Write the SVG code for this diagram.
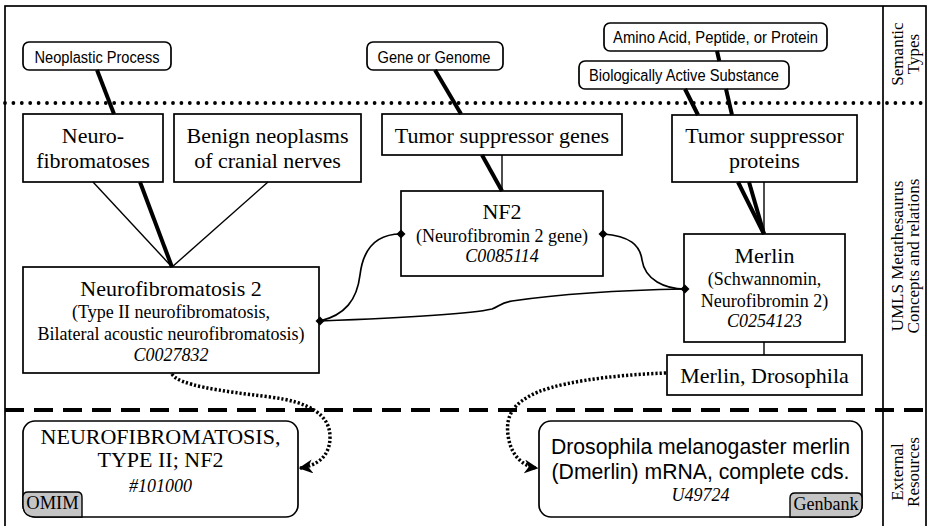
<svg xmlns="http://www.w3.org/2000/svg" width="928" height="526" viewBox="0 0 928 526">
<defs>
<style>
.box{fill:#fff;stroke:#000;stroke-width:1.7}
.st{fill:#fff;stroke:#000;stroke-width:1.7}
.sans{font-family:"Liberation Sans",Arial,sans-serif;fill:#000}
.serif{font-family:"Liberation Serif","Times New Roman",serif;fill:#000}
.it{font-style:italic}
.thick{stroke:#000;stroke-width:4;fill:none}
.thin{stroke:#000;stroke-width:1.4;fill:none}
.rel{stroke:#000;stroke-width:1.7;fill:none}
.dotlink{stroke:#000;stroke-width:3.5;fill:none;stroke-dasharray:2.2 2}
.tag{fill:#c4c4c4;stroke:#000;stroke-width:1.4}
</style>
<marker id="arr" viewBox="0 0 10 10" refX="9" refY="5" markerWidth="4" markerHeight="4" markerUnits="strokeWidth" orient="auto">
<path d="M0,0 L10,5 L0,10 L3,5 Z" fill="#000"/>
</marker>
<path id="dia" d="M0,-4.5 L4.5,0 L0,4.5 L-4.5,0 Z" fill="#000"/>
</defs>
<rect width="928" height="526" fill="#fff"/>
<g id="frame">
<rect x="5" y="6" width="921" height="540" fill="none" stroke="#000" stroke-width="1.7"/>
<line x1="883" y1="6" x2="883" y2="526" stroke="#000" stroke-width="1.7"/>
<line x1="5" y1="103" x2="928" y2="103" stroke="#000" stroke-width="3.8" stroke-linecap="round" stroke-dasharray="0 8.4"/>
<line x1="5" y1="410" x2="928" y2="410" stroke="#000" stroke-width="4" stroke-dasharray="19 10"/>
<text class="serif" font-size="17" text-anchor="middle" transform="translate(903,54) rotate(-90)">Semantic</text>
<text class="serif" font-size="17" text-anchor="middle" transform="translate(919,54) rotate(-90)">Types</text>
<text class="serif" font-size="17" text-anchor="middle" transform="translate(903,256) rotate(-90)">UMLS Metathesaurus</text>
<text class="serif" font-size="17" text-anchor="middle" transform="translate(919,256) rotate(-90)">Concepts and relations</text>
<text class="serif" font-size="17" text-anchor="middle" transform="translate(903,472) rotate(-90)">External</text>
<text class="serif" font-size="17" text-anchor="middle" transform="translate(919,472) rotate(-90)">Resources</text>
</g>
<g id="st-neoplastic">
<rect class="st" x="23" y="42" width="148" height="28" rx="6"/>
<text class="sans" font-size="16" x="97" y="63" text-anchor="middle" textLength="125" lengthAdjust="spacingAndGlyphs">Neoplastic Process</text>
</g>
<g id="st-gene">
<rect class="st" x="367" y="42" width="136" height="28" rx="6"/>
<text class="sans" font-size="16" x="434" y="63" text-anchor="middle" textLength="113" lengthAdjust="spacingAndGlyphs">Gene or Genome</text>
</g>
<g id="st-amino">
<rect class="st" x="604" y="23" width="223" height="28" rx="6"/>
<text class="sans" font-size="16" x="715.5" y="43" text-anchor="middle" textLength="205" lengthAdjust="spacingAndGlyphs">Amino Acid, Peptide, or Protein</text>
</g>
<g id="st-bio">
<rect class="st" x="579" y="61" width="210" height="28" rx="6"/>
<text class="sans" font-size="16" x="684" y="81" text-anchor="middle" textLength="190" lengthAdjust="spacingAndGlyphs">Biologically Active Substance</text>
</g>
<g id="c-neurofibromatoses">
<rect class="box" x="23" y="114" width="140" height="68"/>
<text class="serif" font-size="22" x="93" y="143" text-anchor="middle">Neuro-</text>
<text class="serif" font-size="22" x="93" y="168" text-anchor="middle">fibromatoses</text>
</g>
<g id="c-benign">
<rect class="box" x="174" y="114" width="187" height="68"/>
<text class="serif" font-size="22" x="267.5" y="143" text-anchor="middle">Benign neoplasms</text>
<text class="serif" font-size="22" x="267.5" y="168" text-anchor="middle">of cranial nerves</text>
</g>
<g id="c-tsgenes">
<rect class="box" x="382" y="114" width="240" height="41"/>
<text class="serif" font-size="22" x="502" y="143" text-anchor="middle">Tumor suppressor genes</text>
</g>
<g id="c-tsproteins">
<rect class="box" x="672" y="115" width="185" height="67"/>
<text class="serif" font-size="22" x="764.5" y="143" text-anchor="middle">Tumor suppressor</text>
<text class="serif" font-size="22" x="764.5" y="168" text-anchor="middle">proteins</text>
</g>
<g id="c-nf2disease">
<rect class="box" x="23" y="267" width="296" height="106"/>
<text class="serif" font-size="22" x="171" y="296" text-anchor="middle">Neurofibromatosis 2</text>
<text class="serif" font-size="18" x="171" y="318" text-anchor="middle">(Type II neurofibromatosis,</text>
<text class="serif" font-size="18" x="171" y="340" text-anchor="middle">Bilateral acoustic neurofibromatosis)</text>
<text class="serif it" font-size="18" x="171" y="361" text-anchor="middle">C0027832</text>
</g>
<g id="c-nf2gene">
<rect class="box" x="401" y="191" width="202" height="85"/>
<text class="serif" font-size="22" x="502" y="219" text-anchor="middle">NF2</text>
<text class="serif" font-size="18" x="502" y="242" text-anchor="middle">(Neurofibromin 2 gene)</text>
<text class="serif it" font-size="18" x="502" y="262" text-anchor="middle">C0085114</text>
</g>
<g id="c-merlin">
<rect class="box" x="684" y="234" width="161" height="108"/>
<text class="serif" font-size="22" x="764.5" y="263" text-anchor="middle">Merlin</text>
<text class="serif" font-size="18" x="764.5" y="285" text-anchor="middle">(Schwannomin,</text>
<text class="serif" font-size="18" x="764.5" y="307" text-anchor="middle">Neurofibromin 2)</text>
<text class="serif it" font-size="18" x="764.5" y="327" text-anchor="middle">C0254123</text>
</g>
<g id="c-merlindros">
<rect class="box" x="667" y="355" width="195" height="40"/>
<text class="serif" font-size="22" x="764.5" y="383" text-anchor="middle">Merlin, Drosophila</text>
</g>
<g id="r-omim">
<rect class="box" x="23" y="421" width="275" height="96" rx="12"/>
<path class="tag" d="M23,497 Q23,492 28,492 L77,492 Q82,492 82,497 L82,517 L35,517 Q23,517 23,505 Z"/>
<text class="serif" font-size="18.5" x="52.5" y="509" text-anchor="middle">OMIM</text>
<text class="serif" font-size="22" x="160.5" y="444" text-anchor="middle">NEUROFIBROMATOSIS,</text>
<text class="serif" font-size="22" x="160.5" y="467" text-anchor="middle">TYPE II; NF2</text>
<text class="serif it" font-size="18" x="160.5" y="492" text-anchor="middle">#101000</text>
</g>
<g id="r-genbank">
<rect class="box" x="539" y="421" width="323" height="96" rx="12"/>
<path class="tag" d="M790,517 L790,498 Q790,493 795,493 L857,493 Q862,493 862,498 L862,505 Q862,517 850,517 Z"/>
<text class="serif" font-size="18" x="826" y="510" text-anchor="middle">Genbank</text>
<text class="sans" font-size="21.2" x="700.5" y="454" text-anchor="middle">Drosophila melanogaster merlin</text>
<text class="sans" font-size="21.2" x="700.5" y="479" text-anchor="middle">(Dmerlin) mRNA, complete cds.</text>
<text class="serif it" font-size="18" x="700.5" y="501" text-anchor="middle">U49724</text>
</g>
<g id="connectors">
<line class="thick" x1="97" y1="70" x2="114" y2="114"/>
<line class="thick" x1="435" y1="70" x2="461" y2="114"/>
<line class="thick" x1="717" y1="51" x2="719.3" y2="61"/>
<line class="thick" x1="726" y1="89" x2="732" y2="115"/>
<line class="thick" x1="685" y1="89" x2="698" y2="115"/>
<line class="thin" x1="93" y1="182" x2="172" y2="267"/>
<line class="thick" x1="140" y1="182" x2="172" y2="267"/>
<line class="thin" x1="268" y1="182" x2="172" y2="267"/>
<line class="thick" x1="482" y1="155" x2="502" y2="191"/>
<line class="thin" x1="502" y1="155" x2="502" y2="191"/>
<line class="thick" x1="738" y1="182" x2="764" y2="234"/>
<line class="thick" x1="749" y1="182" x2="764" y2="234"/>
<line class="thin" x1="764" y1="182" x2="764" y2="234"/>
<line class="thin" x1="764" y1="342" x2="764" y2="355"/>
<path class="rel" d="M320,321 C345,315 357,300 360,275 C363,250 375,234 401,234"/>
<path class="rel" d="M603,234 C630,236 640,245 642,260 C645,280 665,289 685,289"/>
<path class="rel" d="M320,321 C400,318 470,314 492,309 C500,306 500,303 512,301 C560,294 630,290 685,289"/>
<use href="#dia" x="320" y="321"/>
<use href="#dia" x="401" y="234"/>
<use href="#dia" x="603" y="234"/>
<use href="#dia" x="685" y="289"/>
<path class="dotlink" d="M172,374 C178,385 220,391 270,397 C310,402 330,415 330,437 C330,458 315,466 300,468" marker-end="url(#arr)"/>
<path class="dotlink" d="M666,373 C610,375 550,383 528,397 C510,407 506,420 508,435 C510,452 520,466 537,468" marker-end="url(#arr)"/>
</g>
</svg>
